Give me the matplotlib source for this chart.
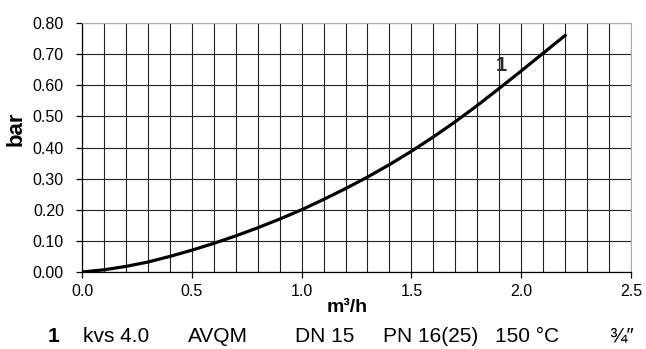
import matplotlib.pyplot as plt
import numpy as np

plt.rcParams['font.family'] = ['Liberation Sans', 'DejaVu Sans']

# curve 1 (m3/h, bar)
flow = [0.0, 0.1, 0.2, 0.3, 0.4, 0.5, 0.6, 0.7, 0.8, 0.9, 1.0, 1.1, 1.2, 1.3,
        1.4, 1.5, 1.6, 1.7, 1.8, 1.9, 2.0, 2.1, 2.2]
dp = [0.0, 0.007, 0.018, 0.032, 0.05, 0.07, 0.092, 0.116, 0.142, 0.17, 0.2,
      0.233, 0.268, 0.305, 0.345, 0.388, 0.434, 0.483, 0.535, 0.59, 0.646, 0.703, 0.76]

x_ticks = [0.0, 0.5, 1.0, 1.5, 2.0, 2.5]
y_ticks = [0.0, 0.1, 0.2, 0.3, 0.4, 0.5, 0.6, 0.7, 0.8]
info = ['kvs 4.0', 'AVQM', 'DN 15', 'PN 16(25)', '150 °C', '¾″']
info_px = [116, 218, 325, 431, 527, 622]

W, H = 646, 349
fig = plt.figure(figsize=(W / 100, H / 100), dpi=100)
ax = fig.add_axes([82 / W, 1 - 272 / H, 549 / W, 249 / H])

ax.plot(flow, dp, color='black', lw=2.3, zorder=3)
ax.text(1.91, 0.665, '1', fontsize=14.5, fontweight='bold', ha='center', va='center', color='#2a2a2a')

ax.set_xlim(0, 2.5)
ax.set_ylim(0, 0.8)
ax.set_xticks(x_ticks)
ax.set_xticklabels([f'{v:.1f}' for v in x_ticks])
ax.set_yticks(y_ticks)
ax.set_yticklabels([f'{v:.2f}' for v in y_ticks])
ax.set_xticks(np.arange(0, 2.51, 0.1), minor=True)
ax.grid(True, which='both', color='#222222', lw=0.8)
ax.tick_params(which='minor', length=0)
ax.tick_params(which='major', length=4, width=0.9, labelsize=11.5)
ax.tick_params(axis='x', pad=5)
ax.tick_params(axis='y', pad=9)

for side in ['top', 'right']:
    ax.spines[side].set_color('#aaaaaa')
for side in ['left', 'bottom']:
    ax.spines[side].set_linewidth(0.9)

fig.text(16 / W, 1 - 129 / H, 'bar', fontsize=16, fontweight='bold', rotation=90, ha='center', va='center')
fig.text(347 / W, 1 - 308 / H, 'm³/h', fontsize=14, fontweight='bold', ha='center', va='center')

fig.text(54 / W, 1 - 336 / H, '1', fontsize=15, fontweight='bold', ha='center', va='center')
for t, xp in zip(info, info_px):
    fig.text(xp / W, 1 - 336 / H, t, fontsize=15, ha='center', va='center')

fig.savefig('out.png', dpi=100)
